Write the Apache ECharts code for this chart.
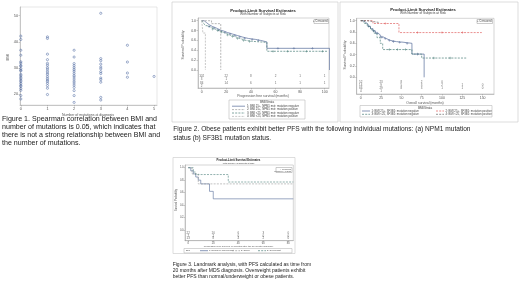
<!DOCTYPE html>
<html>
<head>
<meta charset="utf-8">
<script src="https://cdn.jsdelivr.net/npm/echarts@6/dist/echarts.min.js"></script>
<style>
  html, body { margin: 0; padding: 0; background: #fff; }
  #main { width: 520px; height: 292px; }
</style>
</head>
<body>
<div id="main"></div>
<script>
// ---- Figure 1: BMI by number of mutations at diagnosis
var mutCounts = [0, 1, 2, 3, 4, 5];
var bmiMut0 = [42.2, 40.9, 36.8, 34.9, 32.4, 31.9, 31.0, 30.7, 29.8, 29.2, 28.9, 27.6, 27.1, 26.5, 25.9, 25.3, 24.8, 24.1, 23.4, 23.0, 22.2, 21.5, 19.5, 18.2];
var bmiMut1 = [41.9, 41.3, 35.3, 33.2, 31.8, 31.1, 30.2, 29.6, 28.8, 28.1, 27.5, 26.7, 26.0, 25.4, 24.9, 24.2, 23.3, 22.3, 19.9];
var bmiMut2 = [36.8, 34.2, 31.7, 30.9, 30.1, 29.4, 28.8, 28.0, 27.2, 26.6, 25.8, 25.0, 24.3, 23.5, 22.6, 21.4, 19.5, 16.9];
var bmiMut3 = [50.9, 33.6, 32.8, 31.5, 30.4, 29.7, 28.6, 27.9, 26.2, 25.6, 24.6, 18.8, 17.8];
var bmiMut4 = [38.7, 32.3, 28.1, 26.5];
var bmiMut5 = [26.8];
var bmiTicks = [20, 30, 40, 50];

// ---- Figure 2a: PFS by BMI / NPM1
var npmStrata = ['1: BMI 25+, NPM1 mut: mutation negative', '2: BMI 25+, NPM1 mut: mutation positive',
                 '3: BMI <25, NPM1 mut: mutation negative', '4: BMI <25, NPM1 mut: mutation positive'];
var npmG1 = [[0,1],[2,0.96],[4,0.92],[6,0.88],[9,0.85],[12,0.81],[15,0.79],[18,0.76],[21,0.73],[25,0.7],[29,0.67],[33,0.64],[38,0.62],[44,0.6],[48,0.57],[53,0.44],[104,0.44],[104,0]];
var npmG2 = [[0,1],[8,0.94],[15.5,0]];
var npmG3 = [[0,1],[1.5,0.95],[3,0.9],[5,0.86],[8,0.83],[11,0.8],[14,0.77],[17,0.74],[20,0.71],[23,0.68],[27,0.64],[31,0.6],[36,0.58],[42,0.56],[53,0.38],[102,0.38]];
var npmG4 = [[0,1],[1,0.75],[3,0]];
var npmCens1 = [[6,0.88],[10,0.85],[14,0.81],[19,0.76],[23,0.73],[27,0.7],[31,0.67],[35,0.64],[41,0.62],[46,0.6],[62,0.44],[75,0.44],[90,0.44]];
var npmCens3 = [[9,0.83],[13,0.8],[16,0.77],[21,0.71],[25,0.68],[29,0.64],[34,0.6],[39,0.58],[58,0.38],[70,0.38],[85,0.38],[98,0.38]];
var npmTicks = [0, 20, 40, 60, 80, 100];
var npmAtRisk = [[102, 22, 8, 2, 1, 1], [3, 1], [84, 14, 6, 1, 1, 1], [2]];

// ---- Figure 2b: overall survival by BMI / SF3B1
var sfStrata = ['1: BMI 25+, SF3B1: mutation negative', '2: BMI 25+, SF3B1: mutation positive',
                '3: BMI <25, SF3B1: mutation negative', '4: BMI <25, SF3B1: mutation positive'];
var sfG1 = [[0,1],[3,0.97],[6,0.94],[9,0.9],[12,0.86],[15,0.82],[18,0.78],[21,0.75],[24,0.71],[28,0.68],[32,0.65],[37,0.63],[44,0.62],[52,0.6],[63,0.41],[78,0]];
var sfG2 = [[0,1],[15,0.95],[47,0.79],[149,0.79]];
var sfG3 = [[0,1],[4,0.95],[8,0.9],[12,0.84],[16,0.78],[20,0.7],[24,0.6],[27,0.49],[63,0.41],[75,0.34],[130,0.34]];
var sfG4 = [[0,1],[8,0.97],[22,0.97]];
var sfCens1 = [[10,0.9],[16,0.82],[20,0.78],[26,0.71],[30,0.68],[35,0.65],[40,0.63],[48,0.62],[57,0.6],[70,0.41]];
var sfCens2 = [[30,0.95],[70,0.79],[100,0.79],[125,0.79]];
var sfCens3 = [[35,0.49],[45,0.49],[55,0.49],[90,0.34],[110,0.34]];
var sfTicks = [0, 25, 50, 75, 100, 125, 150];
var sfAtRisk = [[52, 23, 8, 2, 0], [14, 9, 5, 3, 2, 1, 0], [66, 29, 8, 3, 1, 1, 0], [4, 1]];

// ---- Figure 3: landmark analysis from 20 months
var lmStrata = ['1: Normal or underweight', '2: Obese', '3: Overweight'];
var lmG1 = [[0,1],[2,0.95],[4,0.9],[6,0.85],[8,0.8],[10,0.74],[17,0.62],[20,0.5],[84,0.5]];
var lmG2 = [[0,1],[3,0.9],[8,0.74],[84,0.74]];
var lmG3 = [[0,1],[4,0.93],[6,0.89],[32,0.77],[84,0.77]];
var lmTicks = [0, 20, 40, 60, 80];
var lmAtRisk = [[22, 10, 6, 3, 0], [7, 2, 0, 0, 0], [13, 8, 4, 2, 0]];

var survTicks = [0, 0.2, 0.4, 0.6, 0.8, 1.0];

var myChart = echarts.init(document.getElementById('main'), null, { renderer: 'canvas' });
var FONT = 'Liberation Sans';
var plus = 'path://M4,0h2v4h4v2h-4v4h-2v-4h-4v-2h4z';

function cat(vals, x) { return vals.map(function (v) { return [x, v]; }); }

function valAxis(grid, min, max, ticks, opt) {
  opt = opt || {};
  return {
    type: 'value', gridIndex: grid, min: min, max: max,
    splitLine: { show: false },
    axisLine: { show: true, onZero: false, lineStyle: { color: '#999', width: 0.5 } },
    axisTick: { show: true, length: 1.5, customValues: ticks, lineStyle: { color: '#999', width: 0.5 } },
    axisLabel: {
      customValues: ticks, fontSize: opt.fs || 3.5, color: '#555', margin: opt.margin || 2, fontFamily: FONT,
      formatter: opt.fmt || null
    }
  };
}

function km(name, grid, data, color, dash, width) {
  return {
    type: 'line', name: name, xAxisIndex: grid, yAxisIndex: grid, data: data, step: 'end',
    showSymbol: false, symbol: 'none', silent: true, animation: false,
    lineStyle: { color: color, width: width || 0.7, type: dash ? [2, 1.2] : 'solid' }
  };
}

function cens(grid, data, color) {
  return {
    type: 'scatter', xAxisIndex: grid, yAxisIndex: grid, data: data, symbol: plus,
    symbolSize: 2.6, itemStyle: { color: color }, silent: true, animation: false
  };
}

function atRisk(grid, times, rows, y0, dy) {
  var d = [];
  rows.forEach(function (row, i) {
    row.forEach(function (n, j) { d.push([times[j], y0 - i * dy, n]); });
  });
  return {
    type: 'scatter', xAxisIndex: grid, yAxisIndex: grid, data: d, symbolSize: 0,
    silent: true, animation: false,
    label: { show: true, position: 'inside', fontSize: 3, color: '#444', fontFamily: FONT,
             formatter: function (p) { return String(p.value[2]); } }
  };
}

var g2aColors = ['#566c99', '#9a9a9a', '#4c7f7a', '#b0b0b0'];
var g2bColors = ['#566c99', '#e06060', '#4c7f7a', '#666666'];
var g3Colors = ['#566c99', '#9a9a9a', '#4c7f7a'];

function txt(x, y, s, size, opts) {
  opts = opts || {};
  return {
    type: 'text', x: x, y: y, rotation: opts.rot || 0, silent: true,
    style: { text: s, fontSize: size, fontFamily: opts.ff || FONT, fontWeight: opts.bold ? 'bold' : 'normal',
             fill: opts.fill || '#333', textAlign: opts.align || 'left', textVerticalAlign: 'middle',
             lineHeight: opts.lh || size * 1.2 }
  };
}
function box(x, y, w, h, stroke) {
  return { type: 'rect', silent: true, shape: { x: x, y: y, width: w, height: h },
           style: { fill: 'none', stroke: stroke || '#bbb', lineWidth: 0.6 } };
}
function seg(x1, y, x2, color, dash) {
  return { type: 'line', silent: true, shape: { x1: x1, y1: y, x2: x2, y2: y },
           style: { stroke: color, lineWidth: 0.7, lineDash: dash ? [2, 1.2] : null } };
}

var graphics = [
  // figure frames
  box(172, 2, 166, 120, '#c8c8c8'),
  box(340, 2, 178, 120, '#c8c8c8'),
  box(173, 157.5, 122, 96, '#c8c8c8'),

  // figure 1
  txt(88, 115, 'Number of mutations at diagnosis', 3.5, { align: 'center', fill: '#555' }),
  txt(8, 57, 'BMI', 3.8, { align: 'center', rot: Math.PI / 2, fill: '#555' }),
  txt(2, 131, 'Figure 1. Spearman correlation between BMI and\nnumber of mutations is 0.05, which indicates that\nthere is not a strong relationship between BMI and\nthe number of mutations.', 7.1, { lh: 8.1, fill: '#222' }),

  // figure 2a
  txt(263, 11, 'Product-Limit Survival Estimates', 4.2, { align: 'center', bold: true, fill: '#222' }),
  txt(263, 14.3, 'With Number of Subjects at Risk', 3.2, { align: 'center', fill: '#444' }),
  txt(183, 45, 'Survival Probability', 3.4, { align: 'center', rot: Math.PI / 2, fill: '#555' }),
  txt(263, 96, 'Progression free survival (months)', 3.4, { align: 'center', fill: '#555' }),
  box(314, 19.5, 14.5, 4, '#aaa'),
  txt(327.5, 21.5, '+ Censored', 2.8, { align: 'right', fill: '#444' }),
  box(229, 100, 76, 19, '#bbb'),
  txt(267, 102.6, 'BMI/Strata', 3, { align: 'center', fill: '#444' }),

  // figure 2b
  txt(423, 10, 'Product-Limit Survival Estimates', 4.2, { align: 'center', bold: true, fill: '#222' }),
  txt(423, 13.3, 'With Number of Subjects at Risk', 3.2, { align: 'center', fill: '#444' }),
  txt(345, 55, 'Survival Probability', 3.4, { align: 'center', rot: Math.PI / 2, fill: '#555' }),
  txt(425, 103, 'Overall survival (months)', 3.4, { align: 'center', fill: '#555' }),
  box(477, 19.5, 15.5, 4, '#aaa'),
  txt(491.5, 21.5, '+ Censored', 2.8, { align: 'right', fill: '#444' }),
  box(360, 105.5, 132, 11.5, '#bbb'),
  txt(425, 107.7, 'BMI/Strata', 3, { align: 'center', fill: '#444' }),

  // caption 2
  txt(173.3, 133.5, 'Figure 2. Obese patients exhibit better PFS with the following individual mutations: (a) NPM1 mutation\nstatus (b) SF3B1 mutation status.', 6.6, { lh: 8.4, fill: '#222' }),

  // figure 3
  txt(238.5, 160.7, 'Product-Limit Survival Estimates', 2.8, { align: 'center', bold: true, fill: '#222' }),
  txt(238.5, 163.2, 'With Number of Subjects at Risk', 2.2, { align: 'center', fill: '#444' }),
  txt(176.5, 200, 'Survival Probability', 2.6, { align: 'center', rot: Math.PI / 2, fill: '#555' }),
  txt(238.5, 246.2, 'Progression free survival (in months after the 20 month landmark)', 2.4, { align: 'center', fill: '#555' }),
  box(276, 167.5, 16, 5, '#aaa'),
  txt(291, 169, '+ Censored', 2.1, { align: 'right', fill: '#444' }),
  txt(291, 171.3, 'Logrank p=0.2031', 2.1, { align: 'right', fill: '#444' }),
  box(184, 248.5, 108, 4.4, '#bbb'),
  txt(186, 250.7, 'BMI', 2.4, { fill: '#444' }),
  txt(172.7, 270.6, 'Figure 3. Landmark analysis, with PFS calculated as time from\n20 months after MDS diagnosis. Overweight patients exhibit\nbetter PFS than normal/underweight or obese patients.', 5, { lh: 6.2, fill: '#222' })
];

// legend entries built from strata names
npmStrata.forEach(function (s, i) {
  var y = 106.2 + i * 3.4;
  graphics.push(seg(232, y, 245, g2aColors[i], i > 0));
  graphics.push(txt(247, y, s, 2.8, { fill: '#444' }));
});
sfStrata.forEach(function (s, i) {
  var col = i % 2, row = Math.floor(i / 2);
  var y = 111 + row * 3.3;
  var x0 = col === 0 ? 362 : 436;
  graphics.push(seg(x0, y, x0 + 8, g2bColors[i], i > 0));
  graphics.push(txt(x0 + 9.5, y, s, 2.8, { fill: '#444' }));
});
lmStrata.forEach(function (s, i) {
  var x0 = [200, 232, 258][i];
  graphics.push(seg(x0, 250.7, x0 + 8, g3Colors[i], i > 0));
  graphics.push(txt(x0 + 9, 250.7, s, 2.2, { fill: '#444' }));
});

var gridBase = { show: true, borderColor: '#aaa', borderWidth: 0.5, backgroundColor: '#fff' };

var option = {
  animation: false,
  backgroundColor: '#fff',
  textStyle: { fontFamily: FONT },
  grid: [
    Object.assign({ left: 20, top: 7, width: 137, height: 98, borderColor: '#ccc' }, { show: true, borderWidth: 0.5 }),
    Object.assign({ left: 198, top: 18, width: 131, height: 70 }, gridBase),
    Object.assign({ left: 356.7, top: 18.3, width: 137.3, height: 75.7 }, gridBase),
    Object.assign({ left: 185, top: 165, width: 108.3, height: 75.7 }, gridBase)
  ],
  xAxis: [
    valAxis(0, -0.03, 5.11, mutCounts, { fs: 3.8 }),
    valAxis(1, -3, 103.5, npmTicks),
    valAxis(2, -5, 164, sfTicks),
    valAxis(3, -2.6, 84, lmTicks, { fs: 2.6, margin: 1 })
  ],
  yAxis: [
    valAxis(0, 15.9, 53.3, bmiTicks, { fs: 3.8 }),
    valAxis(1, -0.365, 1.055, survTicks, { fmt: function (v) { return v.toFixed(1); } }),
    valAxis(2, -0.295, 1.042, survTicks, { fmt: function (v) { return v.toFixed(1); } }),
    valAxis(3, -0.172, 1.043, survTicks, { fs: 2.6, margin: 1.5, fmt: function (v) { return v.toFixed(1); } })
  ],
  graphic: graphics,
  series: [
    {
      type: 'scatter', xAxisIndex: 0, yAxisIndex: 0, symbolSize: 2.2, silent: true,
      itemStyle: { color: 'rgba(255,255,255,0.2)', borderColor: '#3d5a98', borderWidth: 0.6 },
      data: [].concat(cat(bmiMut0, mutCounts[0]), cat(bmiMut1, mutCounts[1]), cat(bmiMut2, mutCounts[2]),
                      cat(bmiMut3, mutCounts[3]), cat(bmiMut4, mutCounts[4]), cat(bmiMut5, mutCounts[5]))
    },

    km(npmStrata[0], 1, npmG1, g2aColors[0], false),
    km(npmStrata[1], 1, npmG2, g2aColors[1], true),
    km(npmStrata[2], 1, npmG3, g2aColors[2], true),
    km(npmStrata[3], 1, npmG4, g2aColors[3], true),
    cens(1, npmCens1, g2aColors[0]),
    cens(1, npmCens3, g2aColors[2]),
    atRisk(1, npmTicks, npmAtRisk, -0.122, 0.068),

    km(sfStrata[0], 2, sfG1, g2bColors[0], false),
    km(sfStrata[1], 2, sfG2, g2bColors[1], true),
    km(sfStrata[2], 2, sfG3, g2bColors[2], true),
    km(sfStrata[3], 2, sfG4, g2bColors[3], true),
    cens(2, sfCens1, g2bColors[0]),
    cens(2, sfCens2, g2bColors[1]),
    cens(2, sfCens3, g2bColors[2]),
    atRisk(2, sfTicks, sfAtRisk, -0.078, 0.056),

    km(lmStrata[0], 3, lmG1, g3Colors[0], false, 0.6),
    km(lmStrata[1], 3, lmG2, g3Colors[1], true, 0.6),
    km(lmStrata[2], 3, lmG3, g3Colors[2], true, 0.6),
    atRisk(3, lmTicks, lmAtRisk, -0.053, 0.04)
  ]
};

myChart.setOption(option);
window.onresize = function () { myChart.resize(); };
</script>
</body>
</html>
